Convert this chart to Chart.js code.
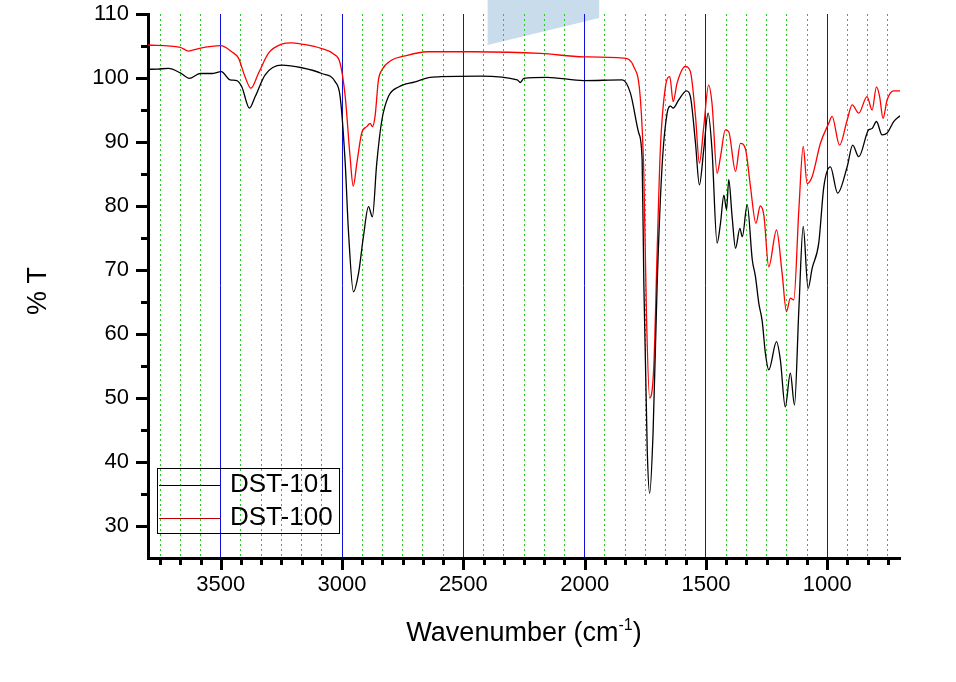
<!DOCTYPE html>
<html>
<head>
<meta charset="utf-8">
<script src="https://cdn.jsdelivr.net/npm/chart.js@4.4.0/dist/chart.umd.min.js"></script>
<style>
  body { margin: 0; background: #fff; }
  canvas { display: block; }
</style>
</head>
<body>
<canvas id="ir-chart" width="956" height="682"></canvas>
<script>
// DST-101 (black)
const wavenumber101 = [3800, 3760, 3716, 3667, 3630, 3585, 3537, 3498, 3461, 3434, 3413, 3382, 3358, 3317, 3249,
    3166, 3084, 3028, 3008, 2987, 2974, 2953, 2932, 2912, 2891, 2875, 2857, 2836, 2809, 2767, 2699, 2644, 2594,
    2430, 2278, 2265, 2251, 2155, 2004, 1845, 1811, 1777, 1763, 1756, 1742, 1732, 1718, 1701, 1681, 1660, 1646,
    1635, 1612, 1580, 1564, 1543, 1527, 1509, 1491, 1475, 1454, 1440, 1426, 1415, 1406, 1392, 1378, 1360, 1350,
    1330, 1309, 1296, 1282, 1268, 1255, 1241, 1209, 1193, 1173, 1152, 1135, 1117, 1099, 1079, 1062, 1035, 1014,
    987, 957, 918, 895, 870, 829, 815, 797, 774, 753, 726, 700];
const transmittance101 = [101.35, 101.4, 101.5, 100.8, 99.95, 100.7, 100.7, 101.0, 99.7, 99.6, 98.6, 95.3, 97.1, 100.5, 102.0,
    101.6, 100.7, 99.4, 97.1, 86.7, 76.3, 66.6, 69.5, 75.2, 79.9, 78.3, 86.7, 93.4, 97.1, 98.6, 99.4, 100.05, 100.2,
    100.3, 99.7, 99.3, 99.95, 100.1, 99.6, 99.7, 97.6, 91.4, 87.2, 67.9, 41.9, 35.1, 44.5, 67.9, 86.1, 94.5, 95.6,
    95.3, 96.6, 98.0, 97.1, 89.8, 83.3, 88.8, 94.5, 88.8, 74.2, 77.3, 81.7, 79.4, 84.1, 78.3, 73.4, 76.5, 75.2,
    80.2, 71.6, 69.0, 64.8, 62.0, 57.0, 54.4, 58.8, 55.9, 48.6, 53.9, 48.9, 63.8, 76.8, 67.1, 70.3, 74.2, 83.0,
    86.1, 82.0, 86.1, 89.5, 87.7, 91.9, 92.1, 93.2, 91.1, 91.4, 93.2, 94.1];

// DST-100 (red)
const wavenumber100 = [3800, 3667, 3633, 3592, 3500, 3455, 3427, 3400, 3376, 3345, 3303, 3249, 3207, 3166, 3084,
    3035, 3008, 2987, 2967, 2954, 2939, 2919, 2898, 2884, 2875, 2864, 2850, 2836, 2795, 2746, 2649, 2457, 2182,
    2004, 1839, 1798, 1770, 1756, 1745, 1732, 1715, 1701, 1688, 1667, 1649, 1635, 1619, 1585, 1564, 1543, 1527,
    1509, 1489, 1475, 1454, 1440, 1420, 1406, 1378, 1358, 1337, 1317, 1294, 1276, 1261, 1241, 1209, 1186, 1168,
    1152, 1138, 1117, 1099, 1083, 1062, 1028, 994, 980, 949, 918, 897, 870, 836, 815, 797, 784, 770, 753, 726, 700];
const transmittance100 = [105.16, 104.8, 104.2, 104.6, 105.05, 104.1, 103.1, 100.2, 98.4, 100.7, 103.9, 105.3, 105.5, 105.3, 104.6,
    103.75, 102.3, 97.1, 87.7, 83.1, 86.7, 91.4, 92.4, 92.9, 92.4, 94.0, 99.7, 101.25, 102.8, 103.4, 104.1, 104.1, 103.85,
    103.3, 103.1, 101.8, 96.6, 85.0, 62.7, 50.0, 54.9, 73.1, 88.8, 98.6, 100.2, 96.3, 99.2, 101.8, 101.0, 94.0, 86.7,
    92.4, 98.9, 96.05, 85.1, 87.7, 91.9, 91.6, 85.4, 89.8, 88.9, 83.2, 77.3, 80.0, 78.5, 70.5, 76.25, 69.5, 63.5,
    65.6, 65.3, 79.4, 89.3, 83.5, 84.6, 89.8, 92.9, 94.0, 89.5, 93.4, 95.8, 94.5, 97.1, 95.0, 98.6, 97.1, 93.7, 96.6, 98.0, 98.0];

const seriesLabels = ['DST-101', 'DST-100'];
const xMajorTicks = [3500, 3000, 2500, 2000, 1500, 1000];
const yMajorTicks = [30, 40, 50, 60, 70, 80, 90, 100, 110];

const FONT = 'Arial, "Liberation Sans", sans-serif';
const isMajorX = v => xMajorTicks.some(m => Math.abs(m - v) < 1e-6);

// 5 minor ticks between majors (Origin style)
const xTickValues = [];
for (let v = 3750; v > 700; v -= 500 / 6) xTickValues.push(v);

const toPoints = (xs, ys) => xs.map((x, i) => ({ x, y: ys[i] }));

const extras = {
    id: 'extras',
    beforeDraw(chart) {
        const { ctx } = chart;
        const xs = chart.scales.x;
        ctx.save();
        ctx.fillStyle = '#fff';
        ctx.fillRect(0, 0, chart.width, chart.height);
        // pale blue patch at the top
        const l = xs.getPixelForValue(2400);
        const r = xs.getPixelForValue(1940);
        ctx.fillStyle = '#c9dcec';
        ctx.beginPath();
        ctx.moveTo(l, 0);
        ctx.lineTo(r, 0);
        ctx.lineTo(r, 18);
        ctx.lineTo(l, 45);
        ctx.closePath();
        ctx.fill();
        ctx.restore();
    },
    afterDraw(chart) {
        const { ctx, chartArea: area } = chart;
        const xs = chart.scales.x;
        const ys = chart.scales.y;
        ctx.save();

        // tick marks
        ctx.strokeStyle = '#000';
        ctx.lineWidth = 3;
        xs.ticks.forEach(t => {
            const px = Math.round(xs.getPixelForValue(t.value)) + 0.5;
            const len = isMajorX(t.value) ? 12 : 7;
            ctx.beginPath();
            ctx.moveTo(px, area.bottom);
            ctx.lineTo(px, area.bottom + len);
            ctx.stroke();
        });
        ys.ticks.forEach(t => {
            if (t.value <= ys.min) return;
            const py = Math.round(ys.getPixelForValue(t.value)) + 0.5;
            const len = yMajorTicks.includes(t.value) ? 12 : 7;
            ctx.beginPath();
            ctx.moveTo(area.left, py);
            ctx.lineTo(area.left - len, py);
            ctx.stroke();
        });

        // axis titles
        ctx.fillStyle = '#000';
        ctx.textBaseline = 'middle';
        ctx.textAlign = 'center';
        ctx.save();
        ctx.translate(39, 291);
        ctx.rotate(-Math.PI / 2);
        ctx.font = '27px ' + FONT;
        ctx.fillText('% T', 0, 0);
        ctx.restore();

        ctx.textBaseline = 'alphabetic';
        ctx.textAlign = 'left';
        const main = 'Wavenumber (cm';
        const sup = '-1';
        const close = ')';
        ctx.font = '27px ' + FONT;
        const wMain = ctx.measureText(main).width;
        const wClose = ctx.measureText(close).width;
        ctx.font = '16px ' + FONT;
        const wSup = ctx.measureText(sup).width;
        let tx = (area.left + area.right) / 2 - (wMain + wSup + wClose) / 2;
        ctx.font = '27px ' + FONT;
        ctx.fillText(main, tx, 641);
        tx += wMain;
        ctx.font = '16px ' + FONT;
        ctx.fillText(sup, tx, 630);
        tx += wSup;
        ctx.font = '27px ' + FONT;
        ctx.fillText(close, tx, 641);

        // legend
        ctx.lineWidth = 1;
        ctx.strokeStyle = '#000';
        ctx.strokeRect(157.5, 468.5, 182, 65);
        ctx.font = '26px ' + FONT;
        ctx.textBaseline = 'middle';
        chart.data.datasets.forEach((ds, i) => {
            const ly = 485 + i * 33;
            ctx.strokeStyle = i === 0 ? '#000' : '#c00000';
            ctx.beginPath();
            ctx.moveTo(159, ly + 0.5);
            ctx.lineTo(220, ly + 0.5);
            ctx.stroke();
            ctx.fillText(ds.label, 230, ly);
        });
        ctx.restore();
    }
};

new Chart(document.getElementById('ir-chart'), {
    type: 'line',
    data: {
        datasets: [{
            label: seriesLabels[0],
            data: toPoints(wavenumber101, transmittance101),
            borderColor: '#000',
            borderWidth: 1.3,
            pointRadius: 0,
            cubicInterpolationMode: 'monotone'
        }, {
            label: seriesLabels[1],
            data: toPoints(wavenumber100, transmittance100),
            borderColor: '#ff0000',
            borderWidth: 1.3,
            pointRadius: 0,
            cubicInterpolationMode: 'monotone'
        }]
    },
    options: {
        responsive: false,
        animation: false,
        layout: { padding: { top: 14, right: 56, left: 0, bottom: 0 } },
        plugins: {
            legend: { display: false },
            tooltip: { enabled: false }
        },
        scales: {
            x: {
                type: 'linear',
                reverse: true,
                min: 700,
                max: 3800,
                afterBuildTicks: s => { s.ticks = xTickValues.map(v => ({ value: v })); },
                afterFit: s => {
                    s.height = 124;
                    s.paddingLeft = 0;
                    s.paddingRight = 0;
                },
                grid: {
                    color: c => (c.tick && isMajorX(c.tick.value) ? '#1010d8' : '#22cc22'),
                    lineWidth: 1,
                    drawTicks: false
                },
                border: {
                    display: true,
                    color: '#000',
                    width: 3,
                    dash: c => (c.tick && !isMajorX(c.tick.value) ? [2, 3] : [])
                },
                ticks: {
                    autoSkip: false,
                    maxRotation: 0,
                    padding: 14,
                    color: '#000',
                    font: { size: 22, family: FONT },
                    callback: v => (isMajorX(v) ? String(Math.round(v)) : '')
                }
            },
            y: {
                min: 25,
                max: 110,
                afterFit: s => {
                    s.width = 148;
                    s.paddingTop = 0;
                    s.paddingBottom = 0;
                },
                grid: { display: false, drawTicks: false },
                border: { display: true, color: '#000', width: 3 },
                ticks: {
                    stepSize: 5,
                    padding: 19,
                    color: '#000',
                    font: { size: 22, family: FONT },
                    callback: v => (yMajorTicks.includes(v) ? String(v) : '')
                }
            }
        }
    },
    plugins: [extras]
});
</script>
</body>
</html>
